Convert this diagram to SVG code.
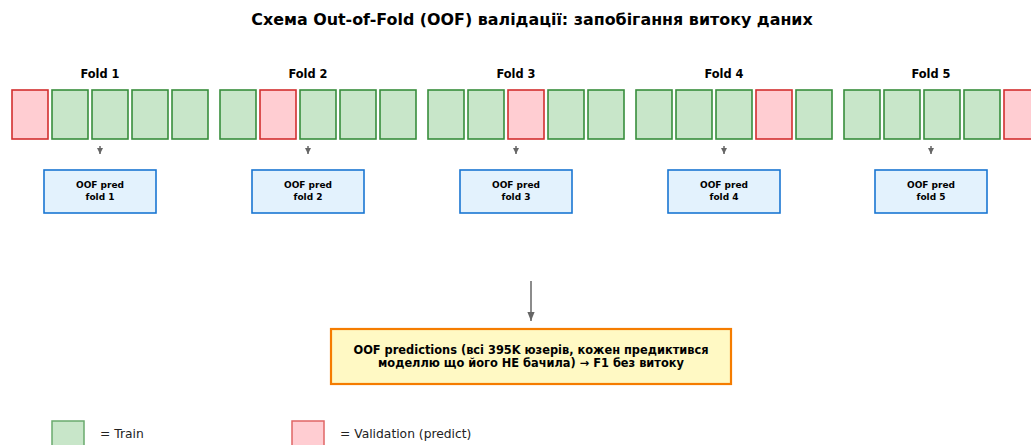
<svg xmlns="http://www.w3.org/2000/svg" width="1031" height="445" viewBox="0 0 1031 445">
<defs>
<style>
.t{font-family:"DejaVu Sans",sans-serif;font-weight:bold;fill:#000;text-anchor:middle}
.tr{stroke:#388e3c;stroke-width:1.6;fill:#c8e6c9}
.va{stroke:#d32f2f;stroke-width:1.6;fill:#ffcdd2}
.oof{fill:#e3f2fd;stroke:#1976d2;stroke-width:1.6}
.ar{stroke:#666;stroke-width:1.5;fill:none}
</style>
<marker id="ah" viewBox="0 0 10 10" refX="10" refY="5" markerWidth="6" markerHeight="6" orient="auto" markerUnits="userSpaceOnUse"><path d="M0,0 L10,5 L0,10 z" fill="#666"/></marker>
<marker id="ah2" viewBox="0 0 10 10" refX="10" refY="5" markerWidth="9" markerHeight="9" orient="auto" markerUnits="userSpaceOnUse"><path d="M0,1 L10,5 L0,9 z" fill="#666"/></marker>
</defs>
<rect width="1031" height="445" fill="#fff"/>
<text class="t" x="532" y="25" font-size="15.9">Схема Out-of-Fold (OOF) валідації: запобігання витоку даних</text>

<g id="fold1">
<text class="t" x="100" y="78" font-size="11.4">Fold 1</text>
<rect class="va" x="12" y="90" width="36" height="49"/>
<rect class="tr" x="52" y="90" width="36" height="49"/>
<rect class="tr" x="92" y="90" width="36" height="49"/>
<rect class="tr" x="132" y="90" width="36" height="49"/>
<rect class="tr" x="172" y="90" width="36" height="49"/>
</g>
<g id="fold2">
<text class="t" x="308" y="78" font-size="11.4">Fold 2</text>
<rect class="tr" x="220" y="90" width="36" height="49"/>
<rect class="va" x="260" y="90" width="36" height="49"/>
<rect class="tr" x="300" y="90" width="36" height="49"/>
<rect class="tr" x="340" y="90" width="36" height="49"/>
<rect class="tr" x="380" y="90" width="36" height="49"/>
</g>
<g id="fold3">
<text class="t" x="516" y="78" font-size="11.4">Fold 3</text>
<rect class="tr" x="428" y="90" width="36" height="49"/>
<rect class="tr" x="468" y="90" width="36" height="49"/>
<rect class="va" x="508" y="90" width="36" height="49"/>
<rect class="tr" x="548" y="90" width="36" height="49"/>
<rect class="tr" x="588" y="90" width="36" height="49"/>
</g>
<g id="fold4">
<text class="t" x="724" y="78" font-size="11.4">Fold 4</text>
<rect class="tr" x="636" y="90" width="36" height="49"/>
<rect class="tr" x="676" y="90" width="36" height="49"/>
<rect class="tr" x="716" y="90" width="36" height="49"/>
<rect class="va" x="756" y="90" width="36" height="49"/>
<rect class="tr" x="796" y="90" width="36" height="49"/>
</g>
<g id="fold5">
<text class="t" x="931" y="78" font-size="11.4">Fold 5</text>
<rect class="tr" x="844" y="90" width="36" height="49"/>
<rect class="tr" x="884" y="90" width="36" height="49"/>
<rect class="tr" x="924" y="90" width="36" height="49"/>
<rect class="tr" x="964" y="90" width="36" height="49"/>
<rect class="va" x="1004" y="90" width="36" height="49"/>
</g>

<g id="connectors">
<line class="ar" x1="100" y1="146" x2="100" y2="154" marker-end="url(#ah)"/>
<line class="ar" x1="308" y1="146" x2="308" y2="154" marker-end="url(#ah)"/>
<line class="ar" x1="516" y1="146" x2="516" y2="154" marker-end="url(#ah)"/>
<line class="ar" x1="724" y1="146" x2="724" y2="154" marker-end="url(#ah)"/>
<line class="ar" x1="931" y1="146" x2="931" y2="154" marker-end="url(#ah)"/>
<line class="ar" x1="531" y1="281" x2="531" y2="321" stroke-width="2" marker-end="url(#ah2)"/>
</g>

<g id="oof1"><rect class="oof" x="44" y="170" width="112" height="43"/><text class="t" x="100" y="188" font-size="9">OOF pred</text><text class="t" x="100" y="200" font-size="9">fold 1</text></g>
<g id="oof2"><rect class="oof" x="252" y="170" width="112" height="43"/><text class="t" x="308" y="188" font-size="9">OOF pred</text><text class="t" x="308" y="200" font-size="9">fold 2</text></g>
<g id="oof3"><rect class="oof" x="460" y="170" width="112" height="43"/><text class="t" x="516" y="188" font-size="9">OOF pred</text><text class="t" x="516" y="200" font-size="9">fold 3</text></g>
<g id="oof4"><rect class="oof" x="668" y="170" width="112" height="43"/><text class="t" x="724" y="188" font-size="9">OOF pred</text><text class="t" x="724" y="200" font-size="9">fold 4</text></g>
<g id="oof5"><rect class="oof" x="875" y="170" width="112" height="43"/><text class="t" x="931" y="188" font-size="9">OOF pred</text><text class="t" x="931" y="200" font-size="9">fold 5</text></g>

<g id="final">
<rect x="331" y="329" width="400" height="55" fill="#fff9c4" stroke="#f57c00" stroke-width="2.2"/>
<text class="t" x="531" y="354" font-size="11.4">OOF predictions (всі 395K юзерів, кожен предиктився</text>
<text class="t" x="531" y="367" font-size="11.4">моделлю що його НЕ бачила) → F1 без витоку</text>
</g>

<g id="legend">
<rect x="52" y="421" width="32" height="30" fill="#c8e6c9" stroke="#6aaa6d" stroke-width="1.5"/>
<text x="100" y="438" font-family="DejaVu Sans,sans-serif" font-size="12.3" fill="#222">= Train</text>
<rect x="292" y="421" width="32" height="30" fill="#ffcdd2" stroke="#e06666" stroke-width="1.5"/>
<text x="340" y="438" font-family="DejaVu Sans,sans-serif" font-size="12.3" fill="#222">= Validation (predict)</text>
</g>
</svg>
